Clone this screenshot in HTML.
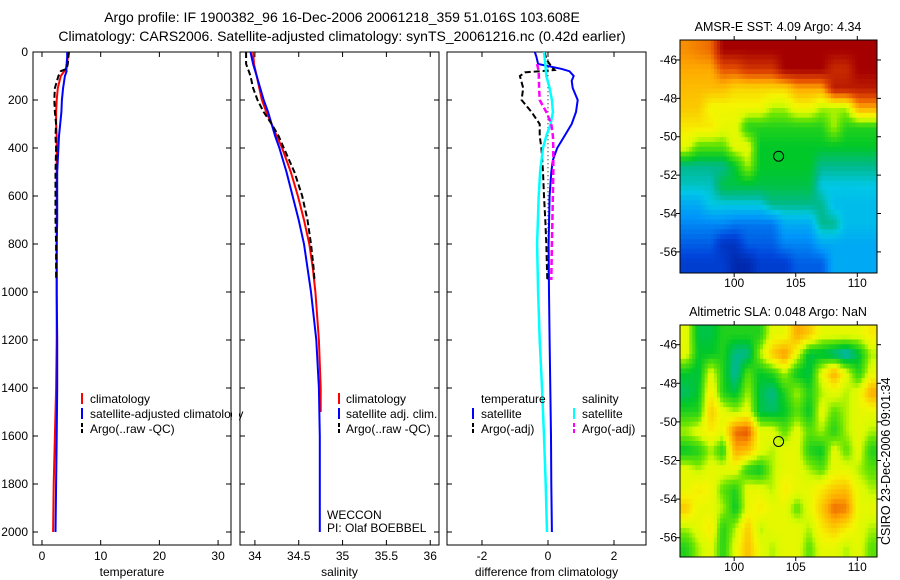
<!DOCTYPE html>
<html><head><meta charset="utf-8"><style>
body{margin:0;background:#fff}
svg{display:block;font-family:"Liberation Sans",sans-serif;font-size:12px}
</style></head><body>
<svg id="c" width="900" height="580" viewBox="0 0 900 580">
<text x="342" y="22" text-anchor="middle" font-size="14">Argo profile: IF 1900382_96 16-Dec-2006 20061218_359 51.016S 103.608E</text>
<text x="342" y="41" text-anchor="middle" font-size="14">Climatology: CARS2006. Satellite-adjusted climatology: synTS_20061216.nc (0.42d earlier)</text>
<text x="778" y="31" text-anchor="middle" font-size="12.5">AMSR-E SST: 4.09 Argo: 4.34</text>
<text x="778" y="316" text-anchor="middle" font-size="12.5">Altimetric SLA: 0.048 Argo: NaN</text>
<text transform="translate(890,545) rotate(-90)" font-size="12.5">CSIRO 23-Dec-2006 09:01:34</text>
<g id="g"></g>
</svg>
<script>
const depths=[0,20,50,70,80,100,150,200,250,300,350,400,500,600,700,800,900,1000,1200,1400,1600,1800,2000];
const tempClim=[4.5,4.4,4.3,4.2,3.8,3.2,2.7,2.5,2.4,2.4,2.5,2.5,2.5,2.5,2.5,2.5,2.5,2.5,2.5,2.4,2.2,2.0,1.9];
const tempSat=[4.3,4.3,4.2,4.1,4.2,3.9,3.6,3.4,3.3,3.1,2.9,2.8,2.6,2.6,2.6,2.5,2.5,2.5,2.6,2.6,2.5,2.4,2.3];
const argoDepths=[0,20,50,70,80,100,150,200,250,300,350,400,500,600,700,800,900,950];
const tempArgo=[4.6,4.5,4.4,4.2,3.2,2.8,2.2,2.1,2.2,2.4,2.3,2.4,2.3,2.3,2.3,2.4,2.4,2.4];
const salClimDepths=[0,50,100,150,200,250,300,350,400,500,600,700,800,900,1000,1200,1400,1500];
const salClim=[33.98,33.99,34.02,34.05,34.08,34.13,34.19,34.25,34.31,34.41,34.49,34.56,34.62,34.66,34.69,34.73,34.75,34.75];
const salSatDepths=[0,50,100,150,200,250,300,350,400,500,600,700,800,900,1000,1200,1400,1600,1800,2000];
const salSat=[33.95,33.98,34.02,34.06,34.1,34.15,34.19,34.23,34.28,34.36,34.43,34.5,34.56,34.6,34.64,34.7,34.73,34.74,34.74,34.74];
const salArgoDepths=[0,50,80,100,150,200,250,300,350,400,500,600,700,800,900,950];
const salArgo=[33.9,33.9,33.93,33.95,33.98,34.03,34.1,34.19,34.27,34.33,34.45,34.54,34.6,34.64,34.67,34.68];
const dTSatDepths=[0,20,50,70,80,100,120,150,200,250,300,350,400,450,500,600,800,1000,1200,1400,1600,1800,2000];
const dTSat=[-0.4,-0.35,-0.3,0.4,0.65,0.78,0.72,0.75,0.9,0.85,0.72,0.5,0.28,0.15,0.1,0.05,0.02,0.03,0.05,0.07,0.09,0.1,0.12];
const dTArgoDepths=[0,30,60,75,85,100,150,200,250,300,350,400,500,600,700,800,950];
const dTArgo=[-0.1,-0.05,0.1,0.2,-0.7,-0.85,-0.75,-0.8,-0.5,-0.25,-0.25,-0.2,-0.15,-0.12,-0.08,-0.05,-0.02];
const dSSatDepths=[0,50,100,150,200,250,300,350,400,500,600,800,1000,1200,1400,1600,1800,2000];
const dSSat=[-0.12,-0.08,-0.05,0.05,0.12,0.15,0.08,-0.05,-0.15,-0.24,-0.28,-0.33,-0.3,-0.25,-0.18,-0.12,-0.07,-0.03];
const dSArgoDepths=[50,80,150,200,250,300,350,400,500,600,800,950];
const dSArgo=[-0.33,-0.28,-0.27,-0.25,-0.05,0.1,0.15,0.16,0.16,0.15,0.12,0.1];
const depthTicks=[0,200,400,600,800,1000,1200,1400,1600,1800,2000];
const tempTicks=[0,10,20,30];
const salTicks=[34,34.5,35,35.5,36];
const salTickLabels=["34","34.5","35","35.5","36"];
const diffTicks=[-2,0,2];
const latTicks=[-46,-48,-50,-52,-54,-56];
const lonTicks=[100,105,110];
const sstGrid=[
[.78,.8,.82,1,1,1,1,1,1,1,1,1,1,1,1,1],
[.75,.75,.75,.85,.85,.9,.9,.9,1,1,1,1,.92,.92,1,1],
[.72,.72,.72,.72,.68,.68,.68,.68,.68,.75,.75,.75,.95,.95,.95,.95],
[.7,.7,.62,.62,.62,.62,.62,.55,.55,.62,.62,.55,.55,.55,.75,.75],
[.65,.65,.65,.6,.6,.45,.45,.45,.45,.45,.45,.45,.55,.45,.45,.45],
[.6,.5,.5,.5,.6,.6,.42,.42,.42,.42,.42,.42,.42,.42,.42,.42],
[.35,.35,.35,.35,.42,.55,.42,.42,.42,.42,.42,.35,.35,.35,.35,.35],
[.32,.32,.32,.4,.4,.4,.4,.4,.4,.4,.4,.3,.3,.3,.3,.3],
[.25,.25,.3,.3,.3,.3,.3,.35,.35,.35,.35,.35,.28,.28,.28,.28],
[.2,.2,.2,.2,.18,.18,.18,.18,.25,.25,.25,.35,.35,.28,.28,.28],
[.15,.15,.15,.08,.08,.15,.15,.15,.2,.2,.2,.25,.25,.25,.25,.25],
[.1,.1,.1,.1,.05,.05,.1,.1,.1,.15,.15,.15,.25,.25,.25,.25]];
const slaGrid=[
[.6,.4,.4,.45,.45,.45,.45,.6,.6,.75,.7,.6,.6,.6,.6,.65],
[.6,.42,.42,.45,.35,.35,.55,.7,.78,.6,.4,.4,.35,.3,.4,.55],
[.42,.4,.6,.45,.33,.5,.42,.45,.55,.42,.4,.6,.75,.6,.45,.6],
[.38,.42,.65,.45,.4,.55,.4,.35,.45,.55,.45,.55,.6,.55,.6,.75],
[.45,.45,.7,.6,.55,.6,.4,.38,.42,.5,.42,.6,.5,.55,.6,.6],
[.55,.6,.65,.6,.82,.85,.6,.6,.5,.6,.5,.55,.45,.55,.6,.55],
[.42,.45,.55,.45,.75,.72,.6,.55,.6,.6,.45,.42,.6,.5,.6,.45],
[.6,.55,.6,.6,.6,.45,.42,.55,.6,.6,.55,.5,.6,.6,.55,.5],
[.6,.65,.62,.5,.45,.6,.6,.55,.65,.6,.6,.65,.7,.72,.6,.55],
[.7,.6,.6,.55,.42,.6,.65,.6,.6,.5,.6,.7,.82,.8,.6,.6],
[.55,.6,.65,.45,.55,.7,.55,.6,.6,.6,.55,.65,.7,.65,.6,.55],
[.45,.55,.6,.45,.6,.72,.6,.55,.6,.6,.5,.6,.6,.55,.6,.5]];
const argoLon=103.608, argoLat=-51.016;

const NS="http://www.w3.org/2000/svg";
const G=document.getElementById('g');
function mk(t,a,p){const e=document.createElementNS(NS,t);for(const k in a)e.setAttribute(k,a[k]);(p||G).appendChild(e);return e;}
const Y0=52,Y1=545,DMAX=(545-52)/0.24;
const yD=d=>Y0+d/DMAX*(Y1-Y0);
function panel(x0,x1,vmin,vmax,ticks,labels,xlabel,name){
  const sx=v=>x0+(v-vmin)/(vmax-vmin)*(x1-x0);
  const f=mk('rect',{x:x0,y:Y0,width:x1-x0,height:Y1-Y0,fill:'none',stroke:'#000','stroke-width':1});
  
  
  ticks.forEach((t,i)=>{const x=sx(t);
    mk('line',{x1:x,x2:x,y1:Y0,y2:Y0+5,stroke:'#000'});mk('line',{x1:x,x2:x,y1:Y1,y2:Y1-5,stroke:'#000'});
    const tx=mk('text',{x:x,y:Y1+15,'text-anchor':'middle'});tx.textContent=labels[i];
    
    });
  depthTicks.forEach(d=>{const y=yD(d);mk('line',{x1:x0,x2:x0+5,y1:y,y2:y,stroke:'#000'});mk('line',{x1:x1,x2:x1-5,y1:y,y2:y,stroke:'#000'});});
  const xl=mk('text',{x:(x0+x1)/2,y:576,'text-anchor':'middle'});xl.textContent=xlabel;
  
  
  return sx;
}
function line(sx,ds,vs,col,w,dash,name){
  const pts=ds.map((d,i)=>sx(vs[i]).toFixed(1)+','+yD(d).toFixed(1)).join(' ');
  const p=mk('polyline',{points:pts,fill:'none',stroke:col,'stroke-width':w});
  if(dash)p.setAttribute('stroke-dasharray',dash);
  
  
}
function txt(x,y,s,name,anchor){const t=mk('text',{x:x,y:y,'text-anchor':anchor||'start'});t.textContent=s;
  
  return t;}
function seg(x,y,col,dash){const l=mk('line',{x1:x,x2:x,y1:y-10,y2:y+1,stroke:col,'stroke-width':2});if(dash)l.setAttribute('stroke-dasharray',dash);}

depthTicks.forEach(d=>{txt(28,yD(d)+4,String(d),'depth-tick-label','end');});
const s1=panel(33,231,-1.53,32.2,tempTicks,tempTicks.map(String),'temperature','temperature-panel');
line(s1,depths,tempClim,'#f00',2,null,'temp-climatology-line');
line(s1,depths,tempSat,'#00f',2,null,'temp-satellite-line');
line(s1,argoDepths,tempArgo,'#000',2,'6,3','temp-argo-line');
seg(82,403,'#f00');txt(90,403,'climatology','legend-climatology');
seg(82,418,'#00f');txt(90,418,'satellite-adjusted climatology','legend-satellite-adjusted');
seg(82,433,'#000','4,2');txt(90,433,'Argo(..raw -QC)','legend-argo');
mk('rect',{x:232,y:380,width:7,height:60,fill:'#fff'});
const s2=panel(240,439,33.83,36.1,salTicks,salTickLabels,'salinity','salinity-panel');
line(s2,salClimDepths,salClim,'#f00',2,null,'sal-climatology-line');
line(s2,salSatDepths,salSat,'#00f',2,null,'sal-satellite-line');
line(s2,salArgoDepths,salArgo,'#000',2,'6,3','sal-argo-line');
seg(339,403,'#f00');txt(346,403,'climatology','legend2-climatology');
seg(339,418,'#00f');txt(346,418,'satellite adj. clim.','legend2-satellite');
seg(339,433,'#000','4,2');txt(346,433,'Argo(..raw -QC)','legend2-argo');
txt(327,519,'WECCON','pi-program-label');txt(327,532,'PI: Olaf BOEBBEL','pi-name-label');
const s3=panel(447,646,-3.06,2.97,diffTicks,diffTicks.map(String),'difference from climatology','difference-panel');
mk('line',{x1:s3(0),x2:s3(0),y1:yD(30),y2:yD(950),stroke:'#000','stroke-dasharray':'1,3'});
line(s3,dTSatDepths,dTSat,'#00f',2,null,'diff-temp-satellite-line');
line(s3,dTArgoDepths,dTArgo,'#000',2,'6,3','diff-temp-argo-line');
line(s3,dSSatDepths,dSSat,'#0ff',2.5,null,'diff-sal-satellite-line');
line(s3,dSArgoDepths,dSArgo,'#f0f',2.5,'6,3','diff-sal-argo-line');
txt(481,403,'temperature','legend3-temperature-header');
seg(473,418,'#00f');txt(481,418,'satellite','legend3-temp-satellite');
seg(473,433,'#000','4,2');txt(481,433,'Argo(-adj)','legend3-temp-argo');
txt(582,403,'salinity','legend3-salinity-header');
seg(574,418,'#0ff');txt(582,418,'satellite','legend3-sal-satellite');
seg(574,433,'#f0f','4,2');txt(582,433,'Argo(-adj)','legend3-sal-argo');

const cmStops=[[0,0,20,140],[.12,0,70,220],[.22,0,150,250],[.3,0,200,230],[.35,0,185,140],[.42,0,200,40],[.52,110,230,0],[.57,215,250,0],[.63,245,245,0],[.75,255,170,0],[.85,230,80,0],[1,165,0,0]];
function cmap(v){v=Math.max(0,Math.min(1,v));
  for(let i=1;i<cmStops.length;i++){const a=cmStops[i-1],b=cmStops[i];
    if(v<=b[0]){const t=(v-a[0])/(b[0]-a[0]);return `rgb(${Math.round(a[1]+t*(b[1]-a[1]))},${Math.round(a[2]+t*(b[2]-a[2]))},${Math.round(a[3]+t*(b[3]-a[3]))})`;}}
  return 'rgb(165,0,0)';}
function sample(grid,fr,fc){const R=grid.length,C=grid[0].length;
  fr=Math.max(0,Math.min(R-1,fr));fc=Math.max(0,Math.min(C-1,fc));
  const r0=Math.floor(fr),c0=Math.floor(fc),r1=Math.min(R-1,r0+1),c1=Math.min(C-1,c0+1),tr=fr-r0,tc=fc-c0;
  return (grid[r0][c0]*(1-tc)+grid[r0][c1]*tc)*(1-tr)+(grid[r1][c0]*(1-tc)+grid[r1][c1]*tc)*tr;}
function map(grid,mx0,mx1,my0,my1,lonMin,lonMax,latTop,latBot,name,labY){
  const sx=l=>mx0+(l-lonMin)/(lonMax-lonMin)*(mx1-mx0);
  const sy=l=>my0+(latTop-l)/(latTop-latBot)*(my1-my0);
  const rows=grid.length,cols=grid[0].length,SUB=4;
  const cw=(mx1-mx0)/(cols*SUB),ch=(my1-my0)/(rows*SUB);
  const g=mk('g',{});
  
  
  for(let r=0;r<rows*SUB;r++)for(let c=0;c<cols*SUB;c++){
    const v=sample(grid,(r+0.5)/SUB-0.5,(c+0.5)/SUB-0.5);
    mk('rect',{x:(mx0+c*cw).toFixed(2),y:(my0+r*ch).toFixed(2),width:(cw+0.4).toFixed(2),height:(ch+0.4).toFixed(2),fill:cmap(v)},g);
  }
  const f=mk('rect',{x:mx0,y:my0,width:mx1-mx0,height:my1-my0,fill:'none',stroke:'#000'});
  
  
  latTicks.forEach(l=>{const y=sy(l);mk('line',{x1:mx0-4,x2:mx0,y1:y,y2:y,stroke:'#000'});mk('line',{x1:mx1,x2:mx1+4,y1:y,y2:y,stroke:'#000'});
    txt(mx0-3,y+4,String(l),name+'-lat-label','end');});
  lonTicks.forEach(l=>{const x=sx(l);mk('line',{x1:x,x2:x,y1:my0-4,y2:my0,stroke:'#000'});mk('line',{x1:x,x2:x,y1:my1,y2:my1+4,stroke:'#000'});
    txt(x,labY,String(l),name+'-lon-label','middle');});
  const m=mk('circle',{cx:sx(argoLon),cy:sy(argoLat),r:5,fill:'none',stroke:'#000'});
  
  
}
map(sstGrid,680,877,40,273,95.6,111.6,-44.96,-57.1,'sst-map',287);
map(slaGrid,680,877,325,557,95.6,111.6,-44.98,-57.0,'sla-map',571);
</script>
</body></html>
